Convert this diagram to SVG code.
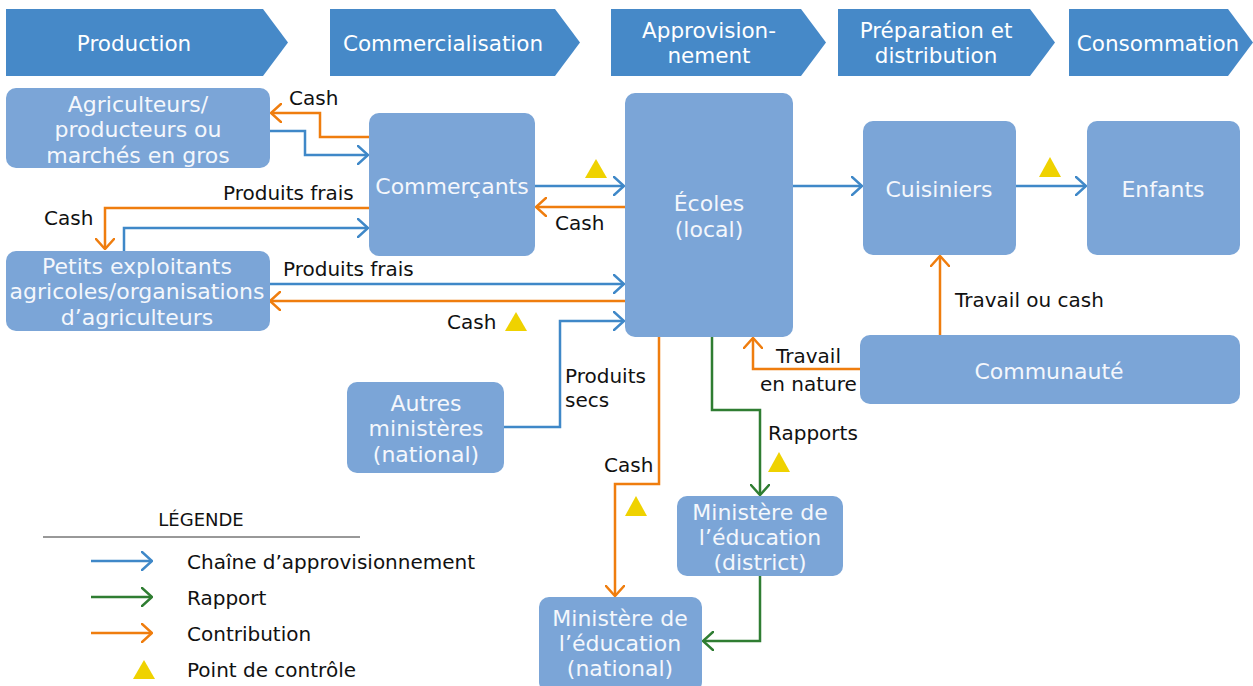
<svg xmlns="http://www.w3.org/2000/svg" width="1253" height="686" viewBox="0 0 1253 686">
<style>
.band{fill:#4689C8}
.node{fill:#7BA5D7}
.bt{font-family:"DejaVu Sans","Open Sans",sans-serif;font-size:21.5px;fill:#FFFFFF;text-anchor:middle}
.nt{font-family:"DejaVu Sans","Open Sans",sans-serif;font-size:22px;fill:#F4F7FC;text-anchor:middle}
.lb{font-family:"DejaVu Sans","Open Sans",sans-serif;font-size:20px;fill:#111111}
.b{fill:none;stroke:#3F88C8;stroke-width:2.5}
.o{fill:none;stroke:#EF7D0E;stroke-width:2.5}
.g{fill:none;stroke:#2F7D32;stroke-width:2.5}
.tri{fill:#EFD200}
</style>
<defs>
<marker id="ab" viewBox="0 0 12 20" refX="11" refY="10" markerWidth="12" markerHeight="20" markerUnits="userSpaceOnUse" orient="auto"><path d="M0,0 L11,10 L0,20" fill="none" stroke="#3F88C8" stroke-width="2.5"/></marker>
<marker id="ao" viewBox="0 0 12 20" refX="11" refY="10" markerWidth="12" markerHeight="20" markerUnits="userSpaceOnUse" orient="auto"><path d="M0,0 L11,10 L0,20" fill="none" stroke="#EF7D0E" stroke-width="2.5"/></marker>
<marker id="ag" viewBox="0 0 12 20" refX="11" refY="10" markerWidth="12" markerHeight="20" markerUnits="userSpaceOnUse" orient="auto"><path d="M0,0 L11,10 L0,20" fill="none" stroke="#2F7D32" stroke-width="2.5"/></marker>
</defs>
<rect width="1253" height="686" fill="#FFFFFF"/>

<g id="stages">
<path class="band" d="M6,9 H263 L288,42.5 L263,76 H6 Z"/>
<text class="bt" x="134" y="51">Production</text>
<path class="band" d="M330,9 H555 L580,42.5 L555,76 H330 Z"/>
<text class="bt" x="443" y="51">Commercialisation</text>
<path class="band" d="M611,9 H801 L826,42.5 L801,76 H611 Z"/>
<text class="bt" x="709" y="38">Approvision-</text>
<text class="bt" x="709" y="63">nement</text>
<path class="band" d="M838,9 H1030 L1055,42.5 L1030,76 H838 Z"/>
<text class="bt" x="936" y="38">Préparation et</text>
<text class="bt" x="936" y="63">distribution</text>
<path class="band" d="M1069,9 H1228 L1253,42.5 L1228,76 H1069 Z"/>
<text class="bt" x="1158" y="51">Consommation</text>
</g>

<g id="connectors">
<path class="o" d="M369,137 H320 V113 H271" marker-end="url(#ao)"/>
<path class="b" d="M270,131 H305 V155 H368" marker-end="url(#ab)"/>
<path class="o" d="M369,208 H105 V249" marker-end="url(#ao)"/>
<path class="b" d="M124,251 V228 H368" marker-end="url(#ab)"/>
<path class="b" d="M535,186 H624" marker-end="url(#ab)"/>
<path class="o" d="M625,207 H536" marker-end="url(#ao)"/>
<path class="b" d="M269,284 H624" marker-end="url(#ab)"/>
<path class="o" d="M625,301 H270" marker-end="url(#ao)"/>
<path class="b" d="M504,427 H560 V321 H624" marker-end="url(#ab)"/>
<path class="b" d="M793,186 H862" marker-end="url(#ab)"/>
<path class="b" d="M1016,186 H1086" marker-end="url(#ab)"/>
<path class="o" d="M940,335 V256" marker-end="url(#ao)"/>
<path class="o" d="M860,369 H753 V338" marker-end="url(#ao)"/>
<path class="o" d="M659,337 V484 H615 V596" marker-end="url(#ao)"/>
<path class="g" d="M712,337 V410 H760 V495" marker-end="url(#ag)"/>
<path class="g" d="M760,576 V641 H703" marker-end="url(#ag)"/>
</g>

<g id="labels">
<text class="lb" x="289" y="105">Cash</text>
<text class="lb" x="223" y="200">Produits frais</text>
<text class="lb" x="44" y="225">Cash</text>
<text class="lb" x="555" y="230">Cash</text>
<text class="lb" x="283" y="276">Produits frais</text>
<text class="lb" x="447" y="329">Cash</text>
<text class="lb" x="565" y="383">Produits</text>
<text class="lb" x="565" y="407">secs</text>
<text class="lb" x="955" y="307">Travail ou cash</text>
<text class="lb" x="776" y="363">Travail</text>
<text class="lb" x="760" y="391">en nature</text>
<text class="lb" x="768" y="440">Rapports</text>
<text class="lb" x="604" y="472">Cash</text>
</g>

<g id="checkpoints">
<path class="tri" d="M596,159 L607,178 L585,178 Z"/>
<path class="tri" d="M1050,157 L1061,177 L1039,177 Z"/>
<path class="tri" d="M516,312 L527,331 L505,331 Z"/>
<path class="tri" d="M636,496 L647,516 L625,516 Z"/>
<path class="tri" d="M779,452 L790,472 L768,472 Z"/>
</g>

<g id="n-agriculteurs">
<rect class="node" x="6" y="88" width="264" height="80" rx="10"/>
<text class="nt" x="138" y="112">Agriculteurs/</text>
<text class="nt" x="138" y="137">producteurs ou</text>
<text class="nt" x="138" y="163">marchés en gros</text>
</g>
<g id="n-commercants">
<rect class="node" x="369" y="113" width="166" height="143" rx="10"/>
<text class="nt" x="452" y="194">Commerçants</text>
</g>
<g id="n-petits">
<rect class="node" x="6" y="251" width="264" height="80" rx="10"/>
<text class="nt" x="137" y="274">Petits exploitants</text>
<text class="nt" x="137" y="299">agricoles/organisations</text>
<text class="nt" x="137" y="325">d’agriculteurs</text>
</g>
<g id="n-ecoles">
<rect class="node" x="625" y="93" width="168" height="244" rx="10"/>
<text class="nt" x="709" y="211">Écoles</text>
<text class="nt" x="709" y="237">(local)</text>
</g>
<g id="n-cuisiniers">
<rect class="node" x="863" y="121" width="153" height="134" rx="10"/>
<text class="nt" x="939" y="197">Cuisiniers</text>
</g>
<g id="n-enfants">
<rect class="node" x="1087" y="121" width="153" height="134" rx="10"/>
<text class="nt" x="1163" y="197">Enfants</text>
</g>
<g id="n-communaute">
<rect class="node" x="860" y="335" width="380" height="69" rx="10"/>
<text class="nt" x="1049" y="379">Communauté</text>
</g>
<g id="n-autres">
<rect class="node" x="347" y="382" width="157" height="91" rx="10"/>
<text class="nt" x="426" y="411">Autres</text>
<text class="nt" x="426" y="436">ministères</text>
<text class="nt" x="426" y="462">(national)</text>
</g>
<g id="n-district">
<rect class="node" x="677" y="496" width="166" height="80" rx="10"/>
<text class="nt" x="760" y="520">Ministère de</text>
<text class="nt" x="760" y="545">l’éducation</text>
<text class="nt" x="760" y="570">(district)</text>
</g>
<g id="n-national">
<rect class="node" x="539" y="597" width="163" height="95" rx="10"/>
<text class="nt" x="620" y="626">Ministère de</text>
<text class="nt" x="620" y="651">l’éducation</text>
<text class="nt" x="620" y="676">(national)</text>
</g>

<g id="legend">
<text class="lb" x="201" y="526" text-anchor="middle" style="font-size:18px">LÉGENDE</text>
<line x1="43" y1="537" x2="360" y2="537" stroke="#333333" stroke-width="1"/>
<path class="b" d="M91,561 H152" marker-end="url(#ab)"/>
<path class="g" d="M91,597 H152" marker-end="url(#ag)"/>
<path class="o" d="M91,633 H152" marker-end="url(#ao)"/>
<path class="tri" d="M144,660 L155,679 L133,679 Z"/>
<text class="lb" x="187" y="569">Chaîne d’approvisionnement</text>
<text class="lb" x="187" y="605">Rapport</text>
<text class="lb" x="187" y="641">Contribution</text>
<text class="lb" x="187" y="677">Point de contrôle</text>
</g>
</svg>
